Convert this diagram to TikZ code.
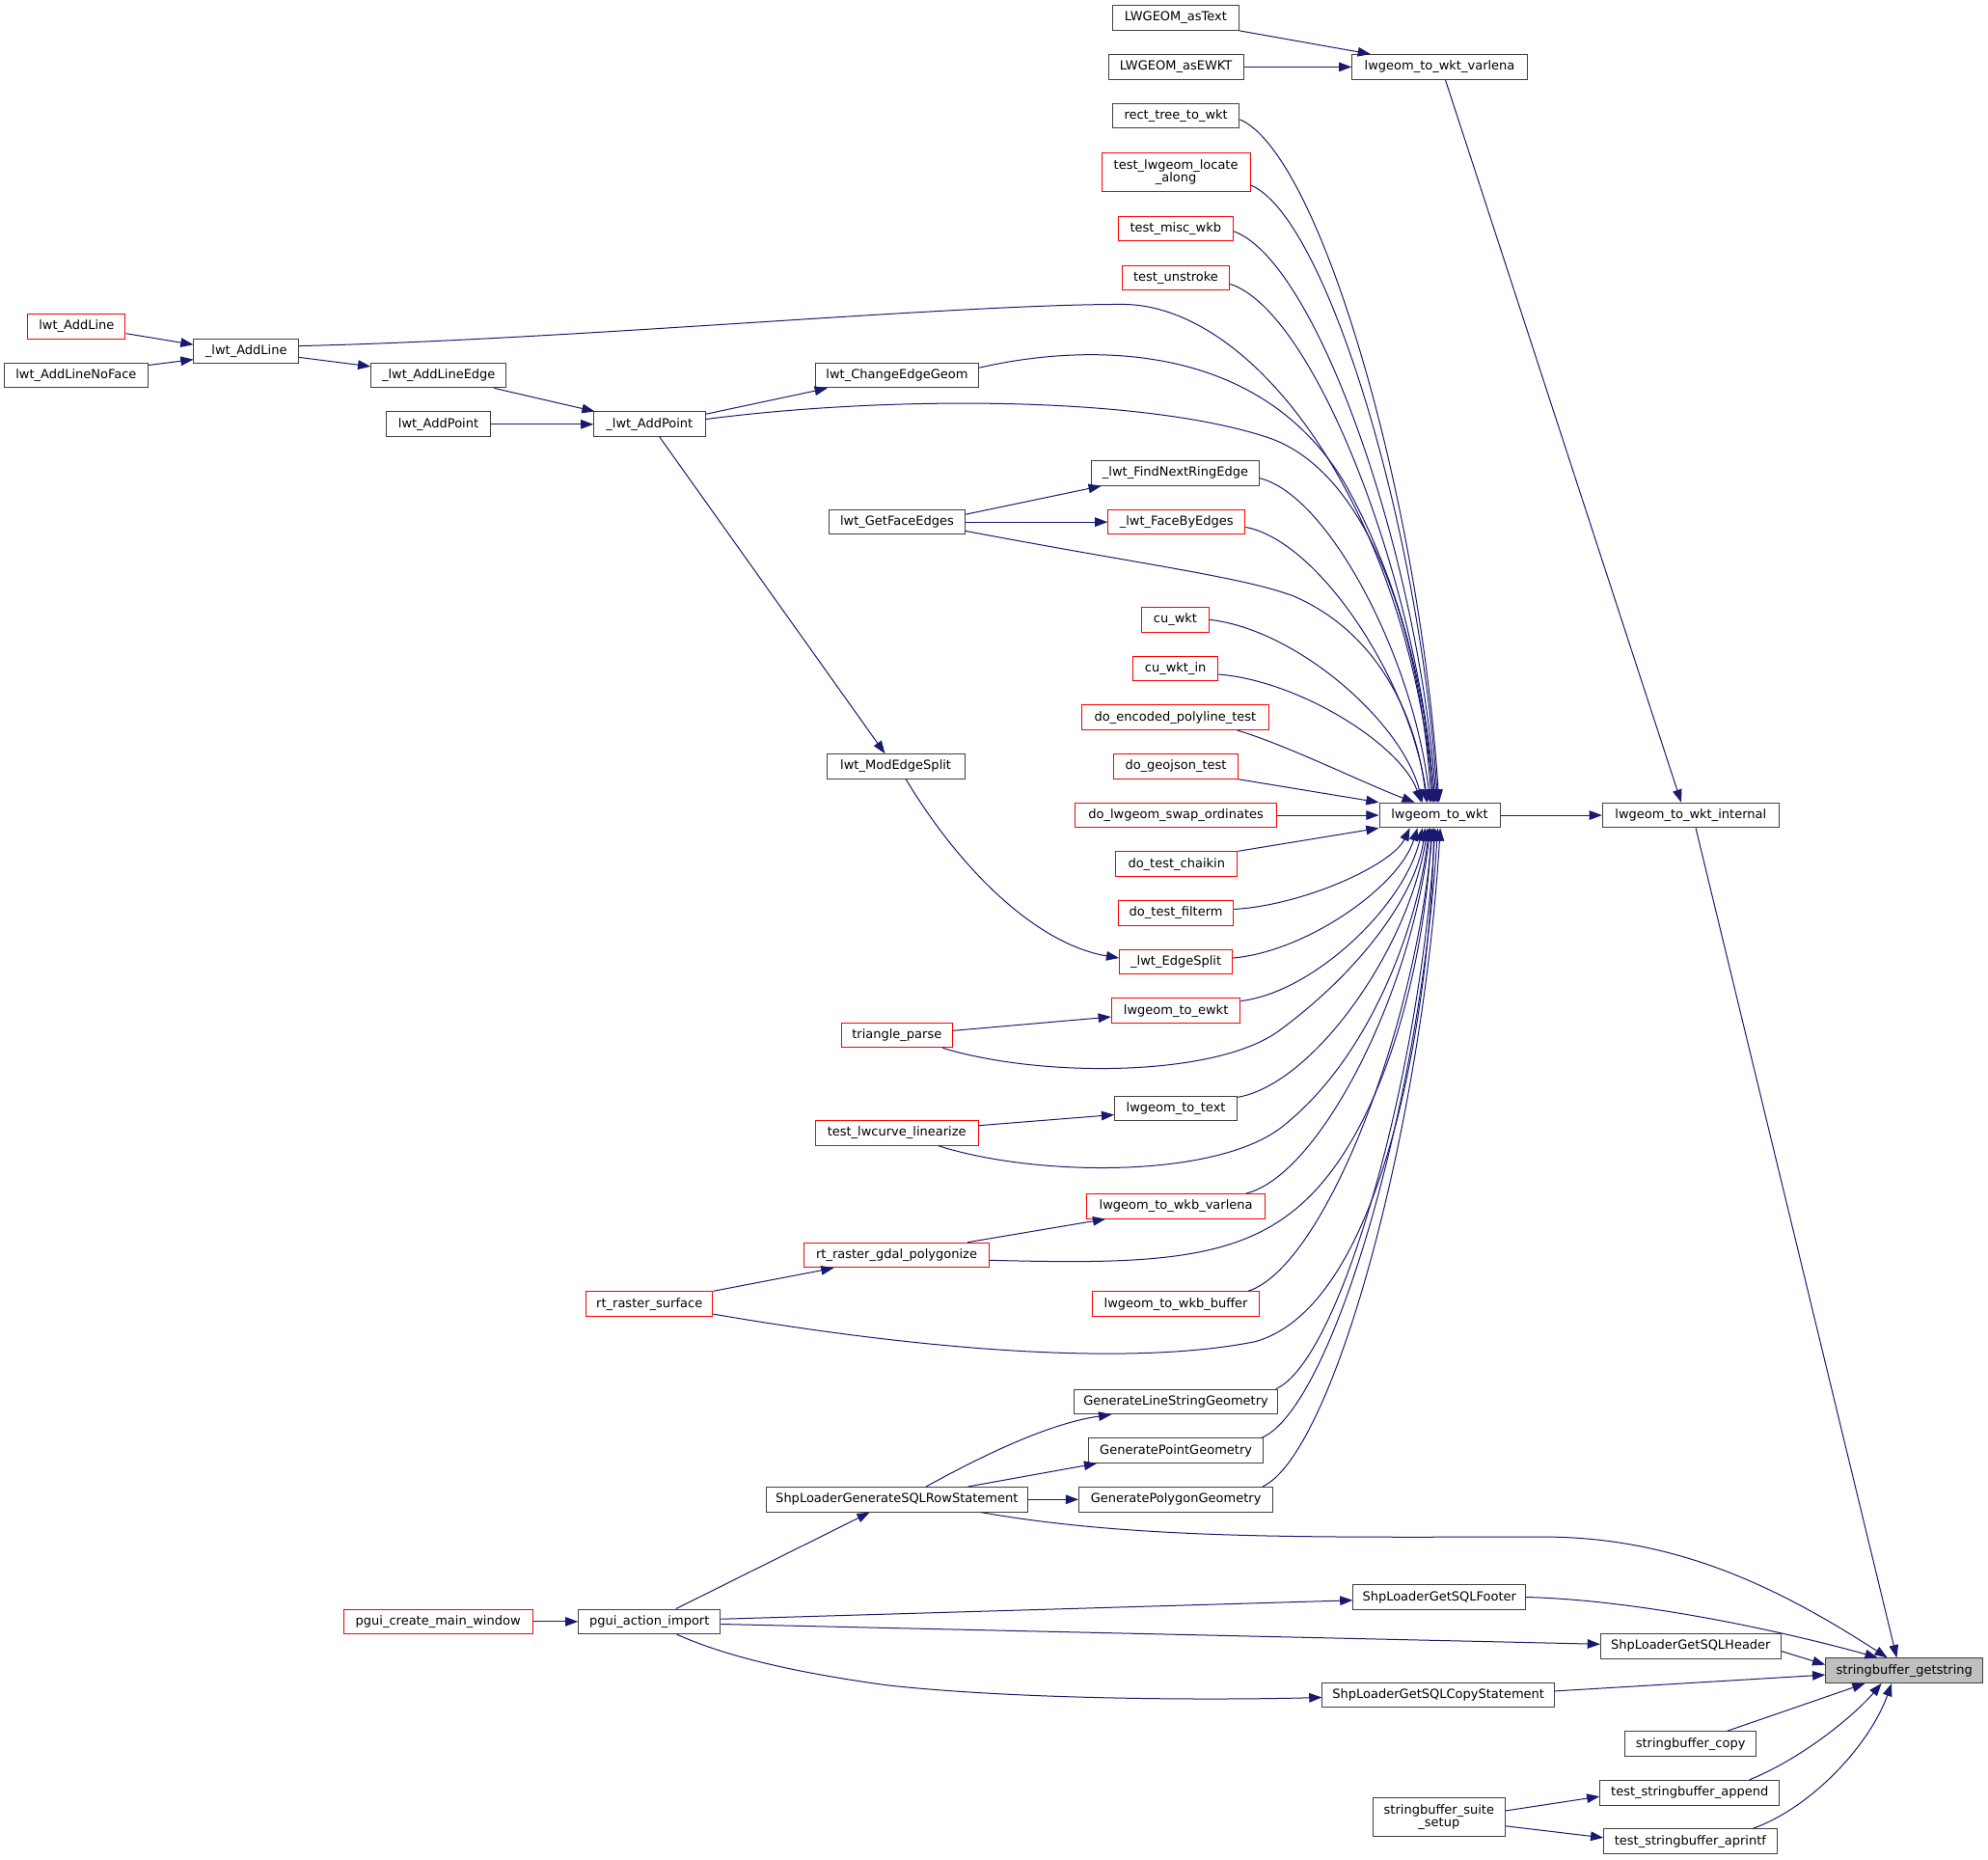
\documentclass[tikz,border=0pt]{standalone}
\usepackage{fontspec}
\newfontfamily\dvs{DejaVu Sans}
\usetikzlibrary{arrows.meta,calc}
\definecolor{edgecol}{HTML}{191970}
\definecolor{bordercol}{HTML}{404040}
\definecolor{rootfill}{HTML}{BFBFBF}
\begin{document}
\begin{tikzpicture}[x=0.6572pt,y=-0.6572pt,
  nd/.style={draw=bordercol, fill=white, line width=0.5pt, inner sep=0pt,
    minimum height=19.5*0.6572pt, font={\dvs\fontsize{6.5pt}{6.8pt}\selectfont},
    text=black, align=center},
  rd/.style={nd, draw=red},
  tall/.style={minimum height=30.5*0.6572pt},
  bw/.style={minimum width=#1*0.6572pt},
  edg/.style={draw=edgecol, line width=0.5pt, -{Triangle[length=6.6pt,width=4.8pt]}},
  cvx/.style n args={4}{to path={let \p1=(\tikztostart), \p2=(\tikztotarget) in
    .. controls ({\x1+#1*(\x2-\x1)},{\y1+#2*(\y2-\y1)}) and ({\x2-#3*(\x2-\x1)},{\y2-#4*(\y2-\y1)}) .. (\p2)}},
  cv/.style={cvx={0.4}{0.05}{0.1}{0.45}}
]
\fill[white] (0,0) rectangle (1568,1466.8);
\useasboundingbox (0,0) rectangle (1568,1466.8);

% nodes
\node[nd,fill=rootfill,bw=124] (gs) at (1502,1317.4) {stringbuffer\_getstring};
\node[nd,bw=139] (wint) at (1333.5,642.9) {lwgeom\_to\_wkt\_internal};
\node[nd,bw=142] (hdr) at (1333.5,1298.1) {ShpLoaderGetSQLHeader};
\node[nd,bw=103] (cpy) at (1333.4,1375.2) {stringbuffer\_copy};
\node[nd,bw=141.4] (app) at (1332.7,1413.7) {test\_stringbuffer\_append};
\node[nd,bw=136.4] (apr) at (1333.2,1452.2) {test\_stringbuffer\_aprintf};
\node[nd,bw=138.2] (wv) at (1135.5,52.8) {lwgeom\_to\_wkt\_varlena};
\node[nd,bw=95.1] (wkt) at (1135.5,642.9) {lwgeom\_to\_wkt};
\node[nd,bw=136] (ftr) at (1135.3,1259.5) {ShpLoaderGetSQLFooter};
\node[nd,bw=183] (cps) at (1134.5,1336.6) {ShpLoaderGetSQLCopyStatement};
\node[nd,bw=104,tall] (sss) at (1135,1433) {stringbuffer\_suite\\\_setup};
\node[nd,bw=99.6] (astext) at (927.3,14.1) {LWGEOM\_asText};
\node[nd,bw=106.7] (asewkt) at (927.5,52.8) {LWGEOM\_asEWKT};
\node[nd,bw=100] (rect) at (927.5,91.2) {rect\_tree\_to\_wkt};
\node[rd,bw=117,tall] (locate) at (927.5,136) {test\_lwgeom\_locate\\\_along};
\node[rd,bw=90.5] (misc) at (927.3,180.4) {test\_misc\_wkb};
\node[rd,bw=84.8] (unstroke) at (927.4,219) {test\_unstroke};
\node[nd,bw=132] (fnre) at (927,373.1) {\_lwt\_FindNextRingEdge};
\node[rd,bw=108] (fbe) at (928,411.7) {\_lwt\_FaceByEdges};
\node[rd,bw=53] (cuwkt) at (927,488.7) {cu\_wkt};
\node[rd,bw=67] (cuwktin) at (927.1,527.2) {cu\_wkt\_in};
\node[rd,bw=147] (poly) at (927,565.8) {do\_encoded\_polyline\_test};
\node[rd,bw=98] (geo) at (927.4,604.4) {do\_geojson\_test};
\node[rd,bw=159] (swap) at (927.5,642.9) {do\_lwgeom\_swap\_ordinates};
\node[rd,bw=96] (chaikin) at (928,681.4) {do\_test\_chaikin};
\node[rd,bw=91] (filterm) at (927.5,720) {do\_test\_filterm};
\node[rd,bw=89] (esplit) at (927.5,758.5) {\_lwt\_EdgeSplit};
\node[rd,bw=101.7] (ewkt) at (927.5,797.1) {lwgeom\_to\_ewkt};
\node[nd,bw=96.7] (totext) at (927.5,874.1) {lwgeom\_to\_text};
\node[rd,bw=140.3] (wkbv) at (927.5,951.2) {lwgeom\_to\_wkb\_varlena};
\node[rd,bw=132.1] (wkbb) at (927.5,1028.3) {lwgeom\_to\_wkb\_buffer};
\node[nd,bw=161] (gls) at (927.5,1105.4) {GenerateLineStringGeometry};
\node[nd,bw=138] (gpt) at (927.5,1143.9) {GeneratePointGeometry};
\node[nd,bw=153] (gpg) at (927.5,1182.5) {GeneratePolygonGeometry};
\node[nd,bw=129] (ceg) at (707.5,296) {lwt\_ChangeEdgeGeom};
\node[nd,bw=107] (gfe) at (707.5,411.7) {lwt\_GetFaceEdges};
\node[nd,bw=109] (mes) at (706.5,604.4) {lwt\_ModEdgeSplit};
\node[rd,bw=87.5] (tri) at (707.4,816.3) {triangle\_parse};
\node[rd,bw=128.4] (tlin) at (707.3,893.4) {test\_lwcurve\_linearize};
\node[rd,bw=145.5] (rgp) at (707.2,989.8) {rt\_raster\_gdal\_polygonize};
\node[nd,bw=206.2] (rss) at (707.4,1182.5) {ShpLoaderGenerateSQLRowStatement};
\node[nd,bw=87.7] (lap) at (512.3,334.6) {\_lwt\_AddPoint};
\node[rd,bw=100] (rsurf) at (512.2,1028.3) {rt\_raster\_surface};
\node[nd,bw=111.9] (pai) at (512.2,1278.8) {pgui\_action\_import};
\node[nd,bw=106.6] (lale) at (346,296) {\_lwt\_AddLineEdge};
\node[nd,bw=81.6] (ap) at (345.8,334.6) {lwt\_AddPoint};
\node[rd,bw=149] (pcmw) at (345.5,1278.8) {pgui\_create\_main\_window};
\node[nd,bw=82.6] (al) at (194.2,276.8) {\_lwt\_AddLine};
\node[rd,bw=77] (lal) at (60.4,257.5) {lwt\_AddLine};
\node[nd,bw=113] (alnf) at (60,296) {lwt\_AddLineNoFace};

% edges: varlena / internal
\draw[edg] (astext.south east) -- ($(wv.north west)+(15,0)$);
\draw[edg] (asewkt) -- (wv);
\draw[edg] ($(wv.south)+(4.5,0)$) -- ($(wint.north)+(-7.5,0)$);
\draw[edg] ($(wint.south)+(4,0)$) -- ($(gs.north)+(-6,0)$);
\draw[edg] (wkt) -- (wint);

% edges into lwgeom_to_wkt from above
\draw[edg] ($(rect.east)+(0,3)$) to[cv] ($(wkt.north)+(-0.5,0)$);
\draw[edg] ($(locate.east)+(0,10)$) to[cv] ($(wkt.north)+(-1.5,0)$);
\draw[edg] ($(misc.east)+(0,2)$) to[cv] ($(wkt.north)+(-2.5,0)$);
\draw[edg] ($(unstroke.east)+(0,5)$) to[cv] ($(wkt.north)+(-3.5,0)$);
\draw[edg] ($(al.east)+(0,-4)$) .. controls (450,268) and (750,240) .. (885,240)
  .. controls (990,240) and (1108,400) .. ($(wkt.north)+(-4.5,0)$);
\draw[edg] ($(ceg.east)+(0,-6)$) .. controls (850,272) and (990,265) .. (1060,380)
  .. controls (1100,450) and (1125,540) .. ($(wkt.north)+(-5.5,0)$);
\draw[edg] ($(lap.east)+(0,-4)$) .. controls (700,312) and (900,312) .. (1000,345)
  .. controls (1080,372) and (1120,500) .. ($(wkt.north)+(-6.5,0)$);
\draw[edg] ($(fnre.east)+(0,4)$) to[cv] ($(wkt.north)+(-7.5,0)$);
\draw[edg] ($(fbe.east)+(0,4)$) to[cv] ($(wkt.north)+(-9.5,0)$);
\draw[edg] ($(gfe.east)+(0,7)$) .. controls (900,445) and (980,455) .. (1020,470)
  .. controls (1090,500) and (1118,570) .. ($(wkt.north)+(-10.5,0)$);
\draw[edg] (cuwkt.east) to[cv] ($(wkt.north)+(-13.5,0)$);
\draw[edg] ($(cuwktin.east)+(0,4.6)$) to[cv] ($(wkt.north)+(-14.5,0)$);
\draw[edg] ($(poly.south east)+(-25,0)$) .. controls +(40,12) and +(-40,-15) .. ($(wkt.north)+(-19.7,0)$);
\draw[edg] (geo.south east) -- (wkt.north west);
\draw[edg] (swap) -- (wkt);

% edges into lwgeom_to_wkt from below
\draw[edg] (chaikin.north east) -- (wkt.south west);
\draw[edg] ($(filterm.east)+(0,-3)$) to[cv] ($(wkt.south)+(-23.5,0)$);
\draw[edg] ($(esplit.east)+(0,-3)$) to[cv] ($(wkt.south)+(-17.5,0)$);
\draw[edg] ($(ewkt.north east)+(0,2.4)$) to[cv] ($(wkt.south)+(-13.5,0)$);
\draw[edg] ($(tri.south east)+(-8,0)$) .. controls (820,850) and (960,850) .. (1010,812)
  .. controls (1080,760) and (1118,700) .. ($(wkt.south)+(-11.5,0)$);
\draw[edg] ($(totext.east)+(0,-8.8)$) to[cv] ($(wkt.south)+(-9.5,0)$);
\draw[edg] ($(tlin.south east)+(-32,0)$) .. controls (816,928) and (960,930) .. (1012,888)
  .. controls (1085,830) and (1120,720) .. ($(wkt.south)+(-8.5,0)$);
\draw[edg] ($(wkbv.north east)+(-15,0)$) to[cv] ($(wkt.south)+(-7.5,0)$);
\draw[edg] ($(rgp.east)+(0,4)$) .. controls (900,997) and (970,995) .. (1020,955)
  .. controls (1090,900) and (1124,760) .. ($(wkt.south)+(-6.5,0)$);
\draw[edg] ($(wkbb.north east)+(-9.6,0)$) to[cv] ($(wkt.south)+(-5.5,0)$);
\draw[edg] ($(rsurf.east)+(0,8)$) .. controls (700,1060) and (880,1080) .. (990,1058)
  .. controls (1090,1030) and (1128,800) .. ($(wkt.south)+(-4.5,0)$);
\draw[edg] ($(gls.north east)+(-2,0)$) to[cv] ($(wkt.south)+(-3.5,0)$);
\draw[edg] ($(gpt.north east)+(-1.6,0)$) to[cv] ($(wkt.south)+(-1.5,0)$);
\draw[edg] ($(gpg.north east)+(-8.6,0)$) to[cv] ($(wkt.south)+(0.5,0)$);

% edges into stringbuffer_getstring
\draw[edg] ($(rss.south east)+(-37,0)$) .. controls (900,1215) and (1050,1212) .. (1217,1212)
  .. controls (1320,1212) and (1400,1250) .. ($(gs.north)+(-13.4,0)$);
\draw[edg] (ftr.east) .. controls (1300,1262) and (1420,1290) .. ($(gs.north)+(-21,0)$);
\draw[edg] ($(hdr.east)+(0,4)$) -- ($(gs.west)+(0,-4.6)$);
\draw[edg] ($(cps.east)+(0,-3)$) -- ($(gs.west)+(0,3.4)$);
\draw[edg] ($(cpy.north east)+(-23,0)$) -- ($(gs.south)+(-31,0)$);
\draw[edg] ($(app.north east)+(-24,0)$) .. controls (1425,1385) and (1465,1350) .. ($(gs.south)+(-18,0)$);
\draw[edg] ($(apr.north east)+(-19.5,0)$) .. controls (1430,1425) and (1475,1375) .. ($(gs.south)+(-10,0)$);

% left part
\draw[edg] ($(lal.east)+(0,5.5)$) -- ($(al.west)+(0,-5)$);
\draw[edg] ($(alnf.east)+(0,-8)$) -- ($(al.west)+(0,6.7)$);
\draw[edg] ($(al.east)+(0,5)$) -- ($(lale.west)+(0,-7)$);
\draw[edg] ($(lale.south east)+(-9.9,0)$) -- ($(lap.north west)+(1,0)$);
\draw[edg] (ap) -- (lap);
\draw[edg] ($(lap.east)+(0,-8)$) -- ($(ceg.south west)+(10,0)$);
\draw[edg] ($(lap.south)+(8,0)$) -- ($(mes.north)+(-8.5,0)$);
\draw[edg] ($(gfe.east)+(0,-6)$) -- ($(fnre.south west)+(8,0)$);
\draw[edg] (gfe) -- (fbe);
\draw[edg] ($(mes.south)+(8,0)$) .. controls (760,690) and (820,745) .. ($(esplit.west)+(0,-3)$);
\draw[edg] ($(tri.east)+(0,-3.5)$) -- ($(ewkt.west)+(0,4.8)$);
\draw[edg] ($(tlin.east)+(0,-5.8)$) -- ($(totext.west)+(0,5)$);
\draw[edg] ($(rgp.north)+(56,0)$) -- ($(wkbv.south west)+(15,0)$);
\draw[edg] (rsurf.north east) -- ($(rgp.south west)+(23.6,0)$);
\draw[edg] ($(rss.north)+(23,0)$) .. controls (780,1145) and (830,1122) .. ($(gls.south west)+(30,0)$);
\draw[edg] ($(rss.north)+(56,0)$) -- ($(gpt.south west)+(7,0)$);
\draw[edg] (rss) -- (gpg);
\draw[edg] ($(pai.north)+(21,0)$) -- ($(rss.south)+(-21.4,0)$);
\draw[edg] (pcmw) -- (pai);
\draw[edg] ($(pai.east)+(0,-2)$) -- ($(ftr.west)+(0,2.5)$);
\draw[edg] ($(pai.east)+(0,2)$) -- ($(hdr.west)+(0,-1.5)$);
\draw[edg] ($(pai.south)+(21.6,0)$) .. controls (570,1305) and (620,1318) .. (700,1329)
  .. controls (800,1340) and (950,1341) .. ($(cps.west)+(0,2)$);
\draw[edg] ($(sss.east)+(0,-5)$) -- ($(app.west)+(0,3)$);
\draw[edg] ($(sss.east)+(0,7)$) -- ($(apr.west)+(0,-3)$);
\end{tikzpicture}
\end{document}
